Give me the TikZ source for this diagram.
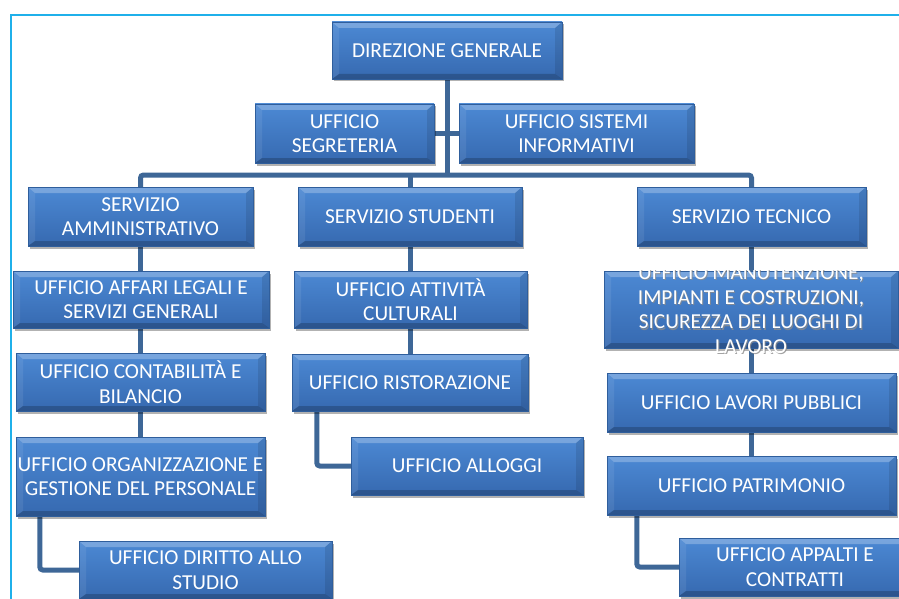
\documentclass[tikz,border=0pt]{standalone}
\usepackage{fontspec}
\setmainfont{Carlito}
\usetikzlibrary{shadows}
\definecolor{boxtop}{HTML}{4C89D4}
\definecolor{boxbot}{HTML}{3669B0}
\definecolor{boxedge}{HTML}{2F5E9C}
\definecolor{linec}{HTML}{3E6797}
\definecolor{framec}{HTML}{1FB0EA}
\tikzset{
  obox/.style={shape=rectangle, inner sep=0pt, text=white, align=center,
    font=\fontsize{21.3}{24.6}\selectfont,
    top color=boxtop, bottom color=boxbot, draw=boxedge, line width=0.5pt,
    drop shadow={shadow xshift=2pt, shadow yshift=-2.5pt, opacity=0.3, fill=black},
    path picture={
      \path (path picture bounding box.north west) coordinate (pnw)
            (path picture bounding box.north east) coordinate (pne)
            (path picture bounding box.south west) coordinate (psw)
            (path picture bounding box.south east) coordinate (pse);
      \fill[white, opacity=0.25] (pnw) -- (pne) -- ([shift={(-7pt,-6pt)}]pne) -- ([shift={(7pt,-6pt)}]pnw) -- cycle;
      \fill[white, opacity=0.08] (pnw) -- ([shift={(7pt,-6pt)}]pnw) -- ([shift={(7pt,5pt)}]psw) -- (psw) -- cycle;
      \fill[black, opacity=0.10] (pne) -- ([shift={(-7pt,-6pt)}]pne) -- ([shift={(-7pt,5pt)}]pse) -- (pse) -- cycle;
      \fill[black, opacity=0.20] (psw) -- ([shift={(7pt,5pt)}]psw) -- ([shift={(-7pt,5pt)}]pse) -- (pse) -- cycle;
    }},
  conn/.style={draw=linec, line width=5pt, rounded corners=3pt},
  boxtext/.style={inner sep=0pt, align=center, font=\fontsize{21.3}{24.6}\selectfont},
  anchorbox/.style={inner sep=0pt},
}
\begin{document}
\begin{tikzpicture}[x=1pt, y=-1pt]
\useasboundingbox (0,0) rectangle (899,599);
\clip (0,0) rectangle (899,599);
\fill[white] (0,0) rectangle (899,599);
\draw[framec, line width=1.6pt] (11,605) -- (11,15) -- (905,15);

\coordinate (bus) at (447,175);

% anchor nodes for connectors (drawn under the boxes)
\node[anchorbox, minimum width=230pt, minimum height=57pt] (dgc) at (447,50.5) {};
\node[anchorbox, minimum width=179pt, minimum height=59pt] (segc) at (344.5,133.5) {};
\node[anchorbox, minimum width=235pt, minimum height=59pt] (sisc) at (576.5,133.5) {};
\node[anchorbox, minimum width=225pt, minimum height=59pt] (ammc) at (140.5,216.5) {};
\node[anchorbox, minimum width=224pt, minimum height=59pt] (stuc) at (410,216.5) {};
\node[anchorbox, minimum width=229pt, minimum height=59pt] (tecc) at (751.5,216.5) {};
\node[anchorbox, minimum width=249pt, minimum height=79pt] (orgc) at (140.5,476.5) {};
\node[anchorbox, minimum width=253pt, minimum height=58pt] (dirc) at (205.5,570) {};
\node[anchorbox, minimum width=236pt, minimum height=57pt] (risc) at (410,382.5) {};
\node[anchorbox, minimum width=232pt, minimum height=58pt] (allc) at (467,466) {};
\node[anchorbox, minimum width=289pt, minimum height=59pt] (patc) at (751.5,485.5) {};
\node[anchorbox, minimum width=232pt, minimum height=58pt] (appc) at (795,567) {};

\draw[conn] (dgc.center) -- (bus);
\draw[conn] (segc.center) -- (sisc.center);
\draw[conn] (ammc.center) |- (bus) -| (tecc.center);
\draw[conn] (stuc.center) -- (stuc.center |- bus);
\draw[conn] (ammc.center) -- (orgc.center);
\draw[conn] (stuc.center) -- (risc.center);
\draw[conn] (tecc.center) -- (patc.center);
\draw[conn] ([xshift=24pt]orgc.south west) |- (dirc.center);
\draw[conn] ([xshift=25pt]risc.south west) |- (allc.center);
\draw[conn] ([xshift=30pt]patc.south west) |- (appc.center);

% boxes
\node[obox, minimum width=230pt, minimum height=57pt] (dg) at (447,50.5) {DIREZIONE GENERALE};
\node[obox, minimum width=179pt, minimum height=59pt] (seg) at (344.5,133.5) {UFFICIO\\SEGRETERIA};
\node[obox, minimum width=235pt, minimum height=59pt] (sis) at (576.5,133.5) {UFFICIO SISTEMI\\INFORMATIVI};
\node[obox, minimum width=225pt, minimum height=59pt] (amm) at (140.5,216.5) {SERVIZIO\\AMMINISTRATIVO};
\node[obox, minimum width=224pt, minimum height=59pt] (stu) at (410,216.5) {SERVIZIO STUDENTI};
\node[obox, minimum width=229pt, minimum height=59pt] (tec) at (751.5,216.5) {SERVIZIO TECNICO};
\node[obox, minimum width=256pt, minimum height=57pt] (leg) at (141,299.5) {UFFICIO AFFARI LEGALI E\\SERVIZI GENERALI};
\node[obox, minimum width=249pt, minimum height=58pt] (con) at (140.5,382) {UFFICIO CONTABILITÀ E\\BILANCIO};
\node[obox, minimum width=249pt, minimum height=79pt] (org) at (140.5,476.5) {UFFICIO ORGANIZZAZIONE E\\GESTIONE DEL PERSONALE};
\node[obox, minimum width=253pt, minimum height=58pt] (dir) at (205.5,570) {UFFICIO DIRITTO ALLO\\STUDIO};
\node[obox, minimum width=233pt, minimum height=57pt] (cul) at (410.5,299.5) {UFFICIO ATTIVITÀ\\CULTURALI};
\node[obox, minimum width=236pt, minimum height=57pt] (ris) at (410,382.5) {UFFICIO RISTORAZIONE};
\node[obox, minimum width=232pt, minimum height=58pt] (all) at (467,466) {UFFICIO ALLOGGI};
\node[obox, minimum width=294pt, minimum height=77pt] (man) at (751,309.5) {};
\node[obox, minimum width=289pt, minimum height=59pt] (lav) at (751.5,402.5) {UFFICIO LAVORI PUBBLICI};
\node[obox, minimum width=289pt, minimum height=59pt] (pat) at (751.5,485.5) {UFFICIO PATRIMONIO};
\node[obox, minimum width=232pt, minimum height=58pt] (app) at (795,567) {UFFICIO APPALTI E\\CONTRATTI};

\begin{scope}
\clip (man.north west) rectangle (899,599);
\node[boxtext, text=black!45, opacity=0.8] (mansh) at ([xshift=1pt,yshift=-1.5pt]man.center) {UFFICIO MANUTENZIONE,\\IMPIANTI E COSTRUZIONI,\\SICUREZZA DEI LUOGHI DI\\LAVORO};
\node[boxtext, text=white] (mant) at (man.center) {UFFICIO MANUTENZIONE,\\IMPIANTI E COSTRUZIONI,\\SICUREZZA DEI LUOGHI DI\\LAVORO};
\end{scope}
\end{tikzpicture}
\end{document}
